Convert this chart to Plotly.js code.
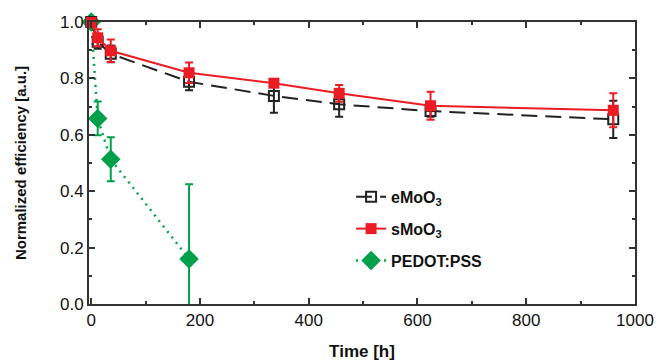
<!DOCTYPE html>
<html>
<head>
<meta charset="utf-8">
<script src="https://cdn.plot.ly/plotly-3.0.1.min.js"></script>
<style>html,body{margin:0;padding:0;background:#fff;}#chart{width:657px;height:361px;}</style>
</head>
<body>
<div id="chart"></div>
<script>
// Data
const eTime = [0, 12, 36, 180, 336, 456, 624, 960];
const eVal  = [1.0, 0.93, 0.887, 0.788, 0.738, 0.708, 0.684, 0.655];
const eErr  = [0.01, 0.025, 0.03, 0.03, 0.06, 0.044, 0.02, 0.066];

const sTime = [0, 12, 36, 180, 336, 456, 624, 960];
const sVal  = [0.998, 0.944, 0.898, 0.820, 0.783, 0.747, 0.703, 0.687];
const sErr  = [0.01, 0.03, 0.04, 0.036, 0.012, 0.03, 0.05, 0.06];

const pTime = [0, 12, 36, 180];
const pVal  = [1.0, 0.658, 0.513, 0.16];
const pErr  = [0.005, 0.06, 0.078, 0.265];

const xTickVals = [0, 200, 400, 600, 800, 1000];
const yTickVals = [0.0, 0.2, 0.4, 0.6, 0.8, 1.0];
const yTickText = ['0.0', '0.2', '0.4', '0.6', '0.8', '1.0'];

const RED = '#ec1c24';
const GREEN = '#00a04b';
const BLACK = '#222222';
const FONT = 'Liberation Sans, Arial, sans-serif';

const traces = [
  {
    x: pTime, y: pVal, name: 'PEDOT:PSS', legendgroup: 'c', legendrank: 3,
    mode: 'lines+markers', type: 'scatter', cliponaxis: false,
    line: {color: GREEN, width: 2.5, dash: '2px,5px'},
    marker: {symbol: 'diamond', size: 15, color: GREEN},
    error_y: {type: 'data', array: pErr, visible: true, color: GREEN, thickness: 2, width: 4}
  },
  {
    x: eTime, y: eVal, name: 'eMoO<sub>3</sub>', legendgroup: 'a', legendrank: 1,
    mode: 'lines+markers', type: 'scatter', cliponaxis: false,
    line: {color: BLACK, width: 2, dash: '16px,8px'},
    marker: {symbol: 'square-open', size: 10, color: BLACK, line: {width: 2, color: BLACK}},
    error_y: {type: 'data', array: eErr, visible: true, color: BLACK, thickness: 2, width: 4}
  },
  {
    x: sTime, y: sVal, name: 'sMoO<sub>3</sub>', legendgroup: 'b', legendrank: 2,
    mode: 'lines+markers', type: 'scatter', cliponaxis: false,
    line: {color: RED, width: 2},
    marker: {symbol: 'square', size: 11, color: RED},
    error_y: {type: 'data', array: sErr, visible: true, color: RED, thickness: 2, width: 4}
  }
];

const axisCommon = {
  showgrid: false, zeroline: false,
  showline: true, linecolor: '#333', linewidth: 2, mirror: 'allticks',
  ticks: 'inside', ticklen: 6, tickwidth: 2, tickcolor: '#333',
  tickfont: {family: FONT, size: 17, color: '#111'}
};

const layout = {
  width: 657, height: 361,
  margin: {l: 89, r: 22, t: 22, b: 57},
  paper_bgcolor: '#fff', plot_bgcolor: '#fff',
  showlegend: true,
  legend: {
    x: 0.48, y: 0.44, xanchor: 'left', yanchor: 'top',
    bgcolor: 'rgba(0,0,0,0)', traceorder: 'grouped', tracegroupgap: 8,
    font: {family: FONT, size: 16, color: '#111', weight: 'bold'}
  },
  xaxis: Object.assign({}, axisCommon, {
    range: [-4, 1000], tickvals: xTickVals,
    minor: {dtick: 100, ticks: 'inside', ticklen: 3, tickwidth: 2, tickcolor: '#333', showgrid: false},
    title: {text: '<b>Time [h]</b>', standoff: 16, font: {family: FONT, size: 17, color: '#111'}}
  }),
  yaxis: Object.assign({}, axisCommon, {
    range: [0, 1.0], tickvals: yTickVals, ticktext: yTickText,
    minor: {dtick: 0.1, ticks: 'inside', ticklen: 3, tickwidth: 2, tickcolor: '#333', showgrid: false},
    title: {text: '<b>Normalized efficiency [a.u.]</b>', standoff: 30, font: {family: FONT, size: 15, color: '#111'}}
  })
};

Plotly.newPlot('chart', traces, layout, {displayModeBar: false, staticPlot: true});
</script>
</body>
</html>
